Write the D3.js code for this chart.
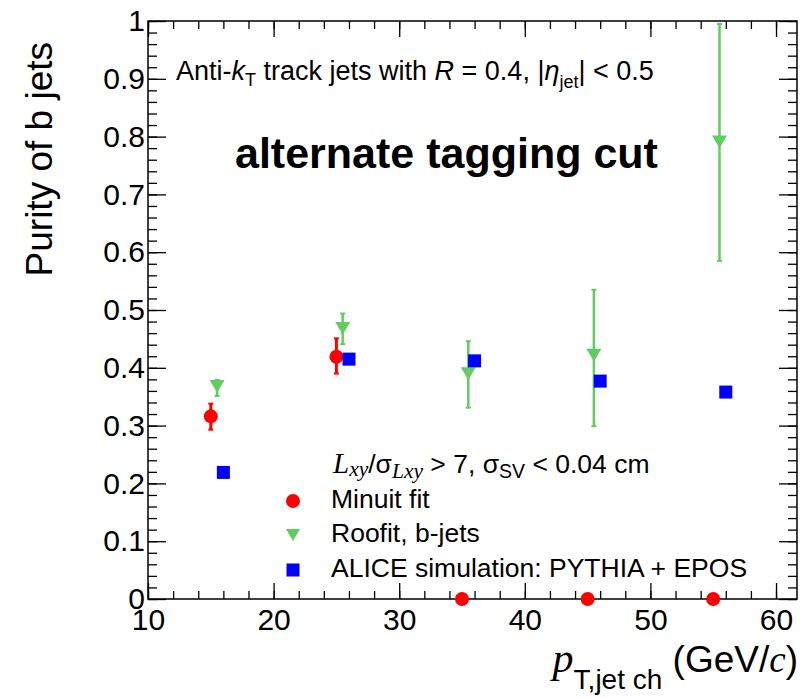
<!DOCTYPE html>
<html>
<head>
<meta charset="utf-8">
<script src="https://cdn.jsdelivr.net/npm/d3@7"></script>
<style>
  html, body { margin: 0; padding: 0; background: #fff; }
  svg { display: block; }
  text { font-family: "Liberation Sans", Arial, Helvetica, sans-serif; fill: #000; }
  .serif { font-family: "Liberation Serif", "Times New Roman", serif; font-style: italic; }
</style>
</head>
<body>
<svg id="chart" width="800" height="698"></svg>
<script>
// ---- data ----
const minuitX   = [15, 25, 35, 45, 55];
const minuitY   = [0.316, 0.419, 0, 0, 0];
const minuitLo  = [0.293, 0.390, 0, 0, 0];
const minuitHi  = [0.338, 0.451, 0, 0, 0];

const roofitX   = [15.5, 25.5, 35.5, 45.5, 55.5];
const roofitY   = [0.368, 0.468, 0.390, 0.422, 0.791];
const roofitLo  = [0.351, 0.441, 0.331, 0.299, 0.585];
const roofitHi  = [0.379, 0.494, 0.446, 0.535, 0.995];

const simX      = [16, 26, 36, 46, 56];
const simY      = [0.219, 0.415, 0.412, 0.377, 0.358];

const xTicks     = [10, 20, 30, 40, 50, 60];
const xMinorTicks = d3.range(10, 61.7, 2);
const yTicks     = [0, 0.1, 0.2, 0.3, 0.4, 0.5, 0.6, 0.7, 0.8, 0.9, 1];
const yMinorTicks = d3.range(0, 1.0001, 0.02);
const yTickLabels = ["0", "0.1", "0.2", "0.3", "0.4", "0.5", "0.6", "0.7", "0.8", "0.9", "1"];
const legendLabels = ["Minuit fit", "Roofit, b-jets", "ALICE simulation: PYTHIA + EPOS"];

// ---- layout ----
const L = 148, R = 797, T = 21, B = 599;
const RED = "#ff0000", GREEN = "#62cc62", BLUE = "#0000ff";

const svg = d3.select("#chart");
const x = d3.scaleLinear().domain([10, 61.67]).range([L, R]);
const y = d3.scaleLinear().domain([0, 1]).range([B, T]);

function tickAxis(gen, tx, ty, ticks, size, labels, pad, fontSize) {
  const g = svg.append("g").attr("transform", `translate(${tx},${ty})`);
  const a = gen.tickValues(ticks).tickSizeInner(size).tickSizeOuter(0).tickPadding(pad);
  if (labels) a.tickFormat((d, i) => labels[i]); else a.tickFormat("");
  g.call(a);
  g.select(".domain").remove();
  g.selectAll(".tick line").attr("stroke", "#000").attr("stroke-width", 1.3);
  g.selectAll(".tick text").style("font-size", fontSize + "px").style("font-family", '"Liberation Sans", Arial, sans-serif').attr("fill", "#000");
  return g;
}
// bottom axis
tickAxis(d3.axisBottom(x), 0, B, xTicks, -16, xTicks.map(String), 10, 30);
tickAxis(d3.axisBottom(x), 0, B, xMinorTicks, -8, null, 0, 10);
// top
tickAxis(d3.axisTop(x), 0, T, xTicks, -16, null, 0, 10);
tickAxis(d3.axisTop(x), 0, T, xMinorTicks, -8, null, 0, 10);
// left
tickAxis(d3.axisLeft(y), L, 0, yTicks, -18, yTickLabels, 3, 30);
tickAxis(d3.axisLeft(y), L, 0, yMinorTicks, -9, null, 0, 10);
// right
tickAxis(d3.axisRight(y), R, 0, yTicks, -18, null, 0, 10);
tickAxis(d3.axisRight(y), R, 0, yMinorTicks, -9, null, 0, 10);

svg.append("rect").attr("x", L).attr("y", T).attr("width", R - L).attr("height", B - T)
  .attr("fill", "none").attr("stroke", "#000").attr("stroke-width", 1.5);

// ---- error bars ----
function errBars(xs, lo, hi, color, w, cap) {
  const g = svg.append("g");
  xs.forEach((xv, i) => {
    if (hi[i] - lo[i] <= 0) return;
    g.append("line").attr("x1", x(xv)).attr("x2", x(xv)).attr("y1", y(lo[i])).attr("y2", y(hi[i]))
      .attr("stroke", color).attr("stroke-width", w);
    [lo[i], hi[i]].forEach(v => g.append("line").attr("x1", x(xv) - cap).attr("x2", x(xv) + cap)
      .attr("y1", y(v)).attr("y2", y(v)).attr("stroke", color).attr("stroke-width", 2));
  });
}
errBars(minuitX, minuitLo, minuitHi, RED, 3, 2.5);
errBars(roofitX, roofitLo, roofitHi, GREEN, 2.5, 2.5);

const tri = (cx, cy, s) => `M${cx - s},${cy - s * 0.85}L${cx + s},${cy - s * 0.85}L${cx},${cy + s * 0.85}Z`;

// markers
svg.append("g").selectAll("circle").data(minuitX).join("circle")
  .attr("cx", d => x(d)).attr("cy", (d, i) => y(minuitY[i])).attr("r", 7).attr("fill", RED);
svg.append("g").selectAll("path").data(roofitX).join("path")
  .attr("d", (d, i) => tri(x(d), y(roofitY[i]), 7.5)).attr("fill", GREEN);
svg.append("g").selectAll("rect").data(simX).join("rect")
  .attr("x", d => x(d) - 6.5).attr("y", (d, i) => y(simY[i]) - 6.5).attr("width", 13).attr("height", 13).attr("fill", BLUE);

// ---- texts ----
// y title
svg.append("text").attr("transform", "translate(52,42) rotate(-90)").attr("text-anchor", "end")
  .style("font-size", "37px").text("Purity of b jets");

// x title
const xt = svg.append("text").attr("x", 798).attr("y", 672).attr("text-anchor", "end").style("font-size", "37px");
xt.append("tspan").attr("class", "serif").style("font-size", "42px").text("p");
xt.append("tspan").attr("dy", 17).style("font-size", "28px").text("T,jet ch");
xt.append("tspan").attr("dy", -17).text(" (GeV/");
xt.append("tspan").attr("class", "serif").text("c");
xt.append("tspan").text(")");

// top annotation
const t1 = svg.append("text").attr("x", 176).attr("y", 80).style("font-size", "27px");
t1.append("tspan").text("Anti-");
t1.append("tspan").style("font-style", "italic").text("k");
t1.append("tspan").attr("dy", 6).style("font-size", "18px").text("T");
t1.append("tspan").attr("dy", -6).text(" track jets with ");
t1.append("tspan").style("font-style", "italic").text("R");
t1.append("tspan").text(" = 0.4, |");
t1.append("tspan").style("font-style", "italic").text("η");
t1.append("tspan").attr("dy", 8).style("font-size", "18px").text("jet");
t1.append("tspan").attr("dy", -8).text("| < 0.5");

svg.append("text").attr("x", 235).attr("y", 168).style("font-size", "43px").style("font-weight", "bold")
  .text("alternate tagging cut");

// cut annotation
const t2 = svg.append("text").attr("x", 333).attr("y", 473).style("font-size", "26.5px");
t2.append("tspan").attr("class", "serif").style("font-size", "29px").text("L");
t2.append("tspan").attr("class", "serif").attr("dy", 3).style("font-size", "21.5px").text("xy");
t2.append("tspan").attr("dy", -3).text("/σ");
t2.append("tspan").attr("class", "serif").attr("dy", 5).style("font-size", "21.5px").text("Lxy");
t2.append("tspan").attr("dy", -5).text(" > 7, σ");
t2.append("tspan").attr("dy", 5).style("font-size", "19.5px").text("SV");
t2.append("tspan").attr("dy", -5).text(" < 0.04 cm");

// legend
const legY = [501, 535, 570];
const lg = svg.append("g");
lg.append("circle").attr("cx", 293).attr("cy", legY[0]).attr("r", 7).attr("fill", RED);
lg.append("path").attr("d", tri(293, legY[1], 7)).attr("fill", GREEN);
lg.append("rect").attr("x", 293 - 6.5).attr("y", legY[2] - 6.5).attr("width", 13).attr("height", 13).attr("fill", BLUE);
legendLabels.forEach((s, i) => lg.append("text").attr("x", 331).attr("y", legY[i])
  .attr("dy", "0.25em").style("font-size", "26.5px").text(s));
</script>
</body>
</html>
